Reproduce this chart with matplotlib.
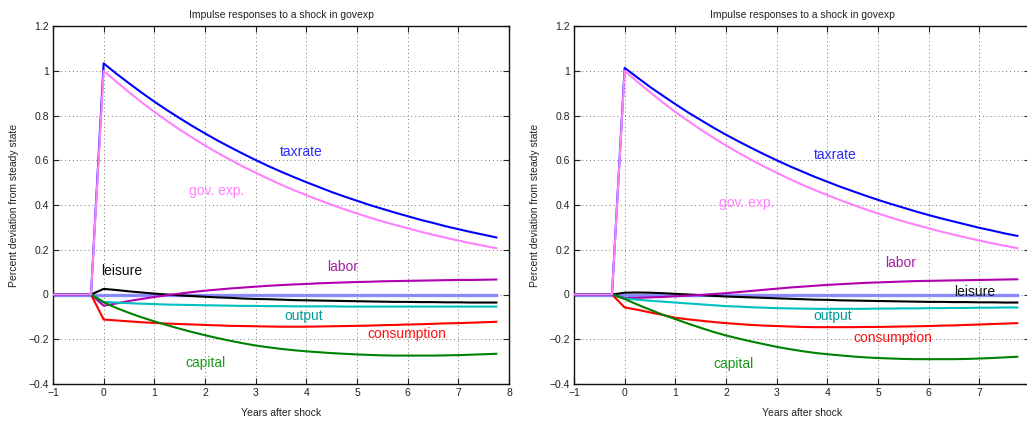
import numpy as np
import matplotlib
matplotlib.use('Agg')
import matplotlib.pyplot as plt

plt.rcParams['font.family'] = ['Liberation Sans', 'DejaVu Sans']

# Colores de cada variable
COLORES = {
    'taxrate': '#0000ff',
    'gov. exp.': '#ff80ff',
    'labor': '#b000b0',
    'leisure': '#000000',
    'output': '#00c0c0',
    'consumption': '#ff0000',
    'capital': '#008000',
}
COLORES_TEXTO = {
    'taxrate': '#2a2aff',
    'gov. exp.': '#ff80ff',
    'labor': '#a020a0',
    'leisure': '#111111',
    'output': '#009a9a',
    'consumption': '#ff1010',
    'capital': '#1a9a1a',
}
COLOR_CERO = '#7878ff'

TITULO = 'Impulse responses to a shock in govexp'
ETIQUETA_X = 'Years after shock'
ETIQUETA_Y = 'Percent deviation from steady state'

# Trimestres antes del choque (estado estacionario) y horizonte de respuesta
antes = [-1.0, -0.75, -0.5, -0.25]
despues = [0.0, 0.25, 0.5, 0.75, 1.0, 1.25, 1.5, 1.75, 2.0, 2.25, 2.5, 2.75,
           3.0, 3.25, 3.5, 3.75, 4.0, 4.25, 4.5, 4.75, 5.0, 5.25, 5.5, 5.75,
           6.0, 6.25, 6.5, 6.75, 7.0, 7.25, 7.5, 7.75]

xticks = [-1, 0, 1, 2, 3, 4, 5, 6, 7, 8]
xtick_labels = [['\u22121', '0', '1', '2', '3', '4', '5', '6', '7', '8'],
                ['\u22121', '0', '1', '2', '3', '4', '5', '6', '7', '']]
yticks = [-0.4, -0.2, 0, 0.2, 0.4, 0.6, 0.8, 1.0, 1.2]
ytick_labels = ['\u22120.4', '\u22120.2', '0', '0.2', '0.4', '0.6', '0.8', '1', '1.2']

# Panel izquierdo
tax_1 = [1.033, 0.987, 0.944, 0.902, 0.862, 0.824, 0.788, 0.753, 0.720, 0.688,
         0.658, 0.629, 0.601, 0.574, 0.549, 0.525, 0.502, 0.480, 0.458, 0.438,
         0.419, 0.400, 0.383, 0.366, 0.350, 0.334, 0.320, 0.305, 0.292, 0.279,
         0.267, 0.255]
gov_1 = [1.000, 0.951, 0.904, 0.859, 0.816, 0.776, 0.737, 0.701, 0.666, 0.633,
         0.602, 0.572, 0.544, 0.517, 0.491, 0.467, 0.444, 0.422, 0.401, 0.381,
         0.362, 0.344, 0.327, 0.311, 0.296, 0.281, 0.267, 0.254, 0.241, 0.229,
         0.218, 0.207]
labor_1 = [-0.050, -0.040, -0.029, -0.020, -0.011, -0.003, 0.004, 0.011, 0.017, 0.022,
           0.027, 0.031, 0.035, 0.039, 0.042, 0.045, 0.047, 0.050, 0.052, 0.054,
           0.056, 0.057, 0.059, 0.060, 0.061, 0.062, 0.063, 0.064, 0.065, 0.065,
           0.066, 0.067]
leisure_1 = [0.025, 0.020, 0.014, 0.009, 0.004, 0.000, -0.004, -0.007, -0.010, -0.013,
             -0.015, -0.018, -0.020, -0.021, -0.023, -0.025, -0.026, -0.027, -0.028, -0.029,
             -0.030, -0.031, -0.032, -0.033, -0.033, -0.034, -0.034, -0.035, -0.035, -0.036,
             -0.036, -0.036]
output_1 = [-0.033, -0.036, -0.039, -0.041, -0.043, -0.045, -0.046, -0.047, -0.048, -0.049,
            -0.050, -0.051, -0.051, -0.052, -0.052, -0.053, -0.053, -0.053, -0.053, -0.054,
            -0.054, -0.054, -0.054, -0.054, -0.054, -0.054, -0.054, -0.054, -0.054, -0.054,
            -0.054, -0.054]
cons_1 = [-0.112, -0.116, -0.120, -0.124, -0.127, -0.130, -0.132, -0.134, -0.136, -0.138,
          -0.140, -0.141, -0.142, -0.143, -0.144, -0.144, -0.144, -0.143, -0.142, -0.141,
          -0.140, -0.139, -0.137, -0.136, -0.134, -0.133, -0.131, -0.129, -0.128, -0.126,
          -0.124, -0.122]
capital_1 = [-0.035, -0.060, -0.082, -0.102, -0.120, -0.137, -0.153, -0.168, -0.182, -0.195,
             -0.207, -0.218, -0.228, -0.236, -0.243, -0.249, -0.254, -0.258, -0.262, -0.265,
             -0.268, -0.270, -0.272, -0.273, -0.273, -0.273, -0.273, -0.272, -0.271, -0.269,
             -0.267, -0.265]

# Panel derecho
tax_2 = [1.013, 0.970, 0.928, 0.889, 0.851, 0.814, 0.780, 0.746, 0.714, 0.684,
         0.655, 0.627, 0.600, 0.574, 0.550, 0.526, 0.504, 0.482, 0.462, 0.442,
         0.423, 0.405, 0.388, 0.371, 0.355, 0.340, 0.326, 0.312, 0.298, 0.286,
         0.273, 0.262]
gov_2 = [1.000, 0.951, 0.904, 0.859, 0.816, 0.776, 0.737, 0.701, 0.666, 0.633,
         0.602, 0.572, 0.544, 0.517, 0.491, 0.467, 0.444, 0.422, 0.401, 0.381,
         0.362, 0.344, 0.327, 0.311, 0.296, 0.281, 0.267, 0.254, 0.241, 0.229,
         0.218, 0.207]
labor_2 = [-0.016, -0.015, -0.013, -0.011, -0.008, -0.005, -0.002, 0.002, 0.006, 0.011,
           0.016, 0.021, 0.026, 0.031, 0.035, 0.039, 0.043, 0.046, 0.049, 0.052,
           0.054, 0.056, 0.058, 0.060, 0.061, 0.062, 0.063, 0.064, 0.065, 0.066,
           0.067, 0.068]
leisure_2 = [0.008, 0.009, 0.008, 0.006, 0.003, 0.000, -0.003, -0.006, -0.009, -0.011,
             -0.013, -0.015, -0.017, -0.019, -0.021, -0.023, -0.024, -0.026, -0.027, -0.028,
             -0.029, -0.030, -0.031, -0.032, -0.033, -0.033, -0.034, -0.034, -0.035, -0.035,
             -0.036, -0.036]
output_2 = [-0.018, -0.023, -0.028, -0.032, -0.036, -0.040, -0.044, -0.048, -0.052, -0.054,
            -0.057, -0.059, -0.061, -0.062, -0.063, -0.064, -0.064, -0.064, -0.064, -0.064,
            -0.063, -0.063, -0.062, -0.062, -0.061, -0.061, -0.060, -0.060, -0.059, -0.059,
            -0.058, -0.058]
cons_2 = [-0.058, -0.068, -0.080, -0.091, -0.104, -0.111, -0.117, -0.123, -0.128, -0.132,
          -0.136, -0.139, -0.141, -0.143, -0.145, -0.146, -0.146, -0.146, -0.146, -0.145,
          -0.145, -0.144, -0.143, -0.142, -0.141, -0.139, -0.138, -0.136, -0.134, -0.132,
          -0.130, -0.128]
capital_2 = [-0.020, -0.045, -0.068, -0.090, -0.110, -0.130, -0.149, -0.167, -0.183, -0.197,
             -0.210, -0.222, -0.234, -0.244, -0.253, -0.261, -0.267, -0.272, -0.277, -0.281,
             -0.284, -0.286, -0.288, -0.289, -0.289, -0.289, -0.289, -0.288, -0.286, -0.284,
             -0.281, -0.278]

paneles = [
    {'taxrate': tax_1, 'gov. exp.': gov_1, 'labor': labor_1, 'leisure': leisure_1,
     'output': output_1, 'consumption': cons_1, 'capital': capital_1},
    {'taxrate': tax_2, 'gov. exp.': gov_2, 'labor': labor_2, 'leisure': leisure_2,
     'output': output_2, 'consumption': cons_2, 'capital': capital_2},
]

# Posiciones de las etiquetas de cada curva (x, y) en cada panel
pos_etiquetas = [
    {'taxrate': (3.90, 0.636), 'gov. exp.': (2.23, 0.463), 'leisure': (0.35, 0.106),
     'labor': (4.71, 0.122), 'output': (3.95, -0.095), 'consumption': (5.98, -0.177),
     'capital': (2.01, -0.307)},
    {'taxrate': (4.15, 0.624), 'gov. exp.': (2.40, 0.411), 'leisure': (6.90, 0.010),
     'labor': (5.45, 0.140), 'output': (4.10, -0.095), 'consumption': (5.30, -0.195),
     'capital': (2.14, -0.310)},
]

orden = ['leisure', 'labor', 'output', 'consumption', 'capital', 'taxrate', 'gov. exp.']

fig = plt.figure(figsize=(10.27, 4.21), dpi=100, facecolor='white')
W, H = 1027, 421
ejes = [fig.add_axes([53 / W, 37 / H, 456 / W, 358 / H]),
        fig.add_axes([574 / W, 37 / H, 456 / W, 358 / H])]

x = np.array(antes + despues)
ceros = np.zeros(len(x))

for ax, datos, pos, xlabs in zip(ejes, paneles, pos_etiquetas, xtick_labels):
    ax.plot(x, ceros, color=COLOR_CERO, linewidth=2.4, alpha=0.85, zorder=2)
    for nombre in orden:
        y = np.concatenate([np.zeros(len(antes)), datos[nombre]])
        ax.plot(x, y, color=COLORES[nombre], linewidth=1.5, zorder=3)
        px, py = pos[nombre]
        ax.text(px, py, nombre, color=COLORES_TEXTO[nombre], fontsize=10,
                ha='center', va='center', zorder=4)

    ax.set_xlim(-1, 8)
    ax.set_ylim(-0.4, 1.2)
    ax.set_xticks(xticks)
    ax.set_xticklabels(xlabs)
    ax.set_yticks(yticks)
    ax.set_yticklabels(ytick_labels)
    ax.tick_params(direction='in', length=4, width=0.8, labelsize=7.5,
                   top=True, right=True, pad=3, colors='#222222')
    ax.grid(True, linestyle=(0, (1, 3)), linewidth=0.7, color='#777777')
    for s in ax.spines.values():
        s.set_linewidth(1.0)
        s.set_color('#111111')
    ax.set_title(TITULO, fontsize=7.5, pad=6, color='#222222')
    ax.set_xlabel(ETIQUETA_X, fontsize=7.5, color='#222222')
    ax.set_ylabel(ETIQUETA_Y, fontsize=7.5, color='#222222')
    ax.yaxis.set_label_coords(-0.0746, 0.5)
    ax.xaxis.set_label_coords(0.5, -0.067)

fig.savefig('out.png', dpi=100)
